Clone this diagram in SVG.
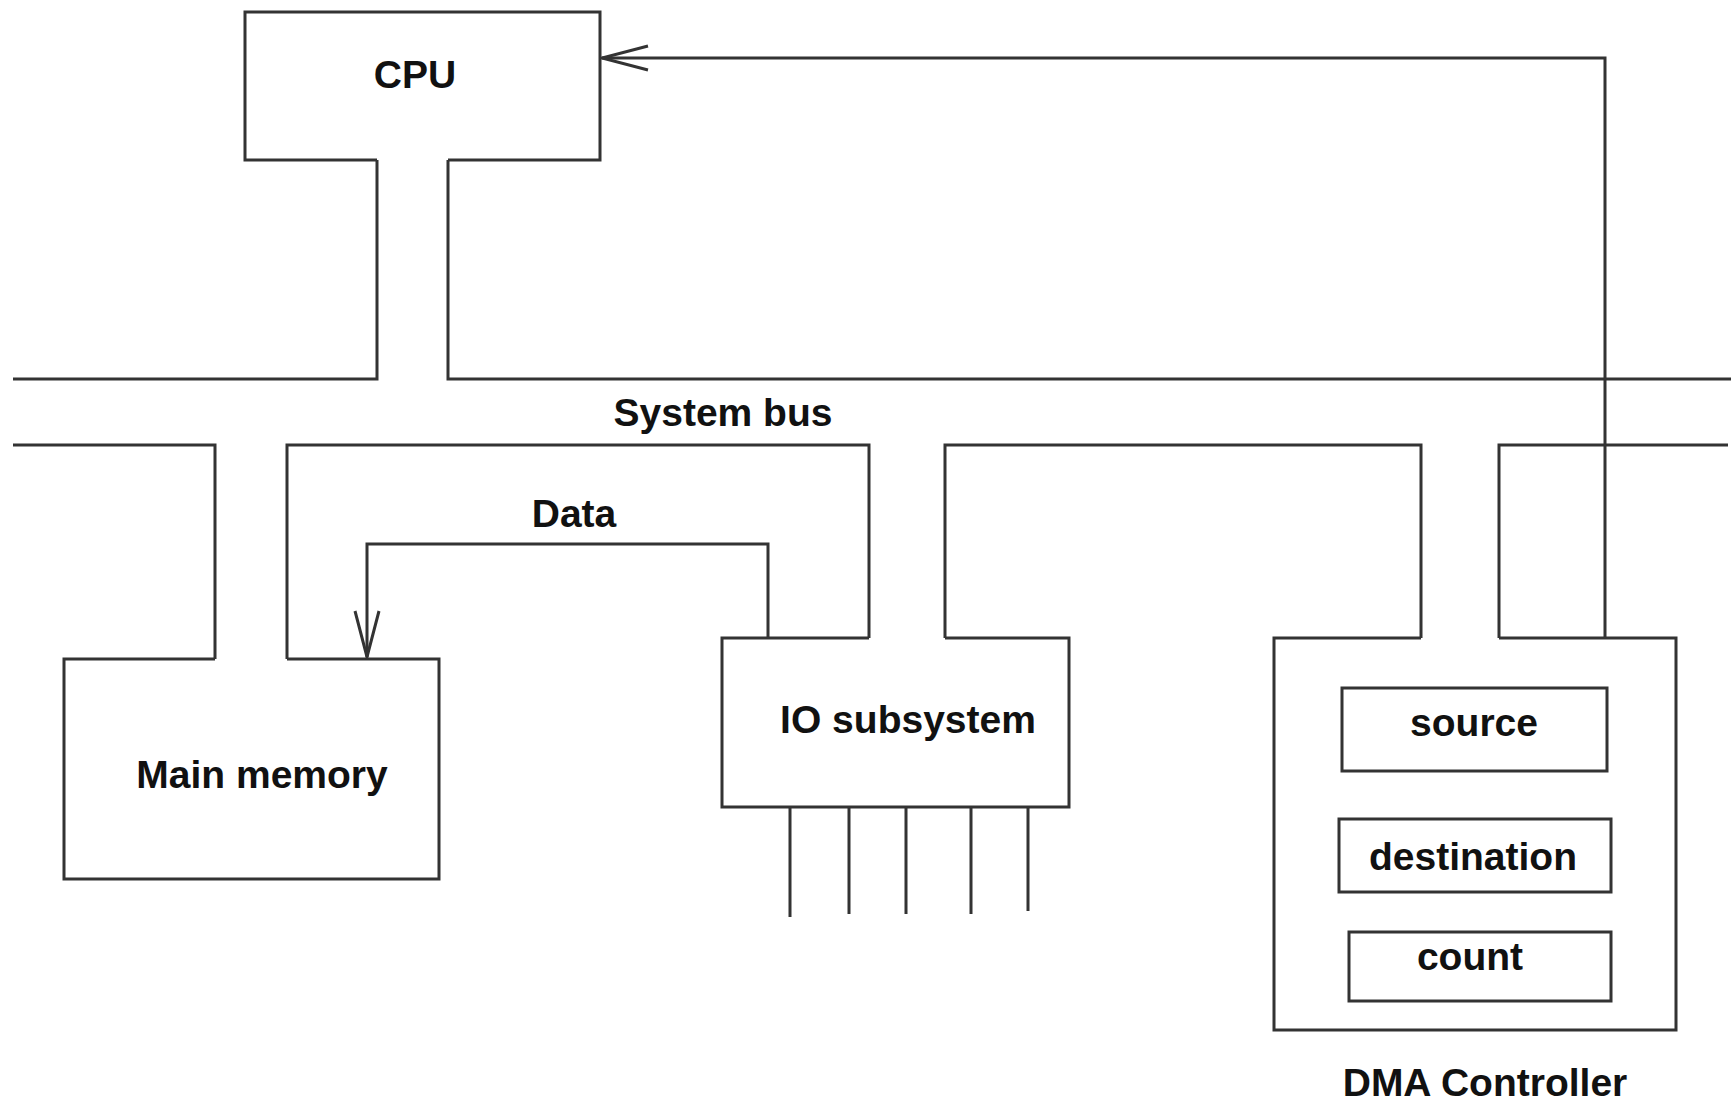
<svg xmlns="http://www.w3.org/2000/svg" width="1731" height="1107" viewBox="0 0 1731 1107">
  <style>
    .ln { fill: none; stroke: #333; stroke-width: 3; stroke-linejoin: miter; }
    .lbl { font-family: "Liberation Sans", Arial, sans-serif; font-weight: bold; font-size: 39px; fill: #111; text-anchor: middle; }
  </style>
  <defs>
    <marker id="open" markerUnits="userSpaceOnUse" viewBox="-50 -14 52 28" refX="0" refY="0" markerWidth="52" markerHeight="28" orient="auto">
      <path d="M-46,-12 L0,0 L-46,12" fill="none" stroke="#333" stroke-width="3"/>
    </marker>
  </defs>
  <rect width="1731" height="1107" fill="#fff"/>

  <!-- system bus: two rails with taps into each unit -->
  <g id="system-bus">
    <path class="ln" d="M13,379 H377 V160"/>
    <path class="ln" d="M448,160 V379 H1731"/>
    <path class="ln" d="M13,445 H215 V659"/>
    <path class="ln" d="M287,659 V445 H869 V638"/>
    <path class="ln" d="M945,638 V445 H1421 V638"/>
    <path class="ln" d="M1499,638 V445 H1728"/>
    <text class="lbl" x="723" y="426">System bus</text>
  </g>

  <g id="cpu">
    <path class="ln" d="M377,160 H245 V12 H600 V160 H448"/>
    <text class="lbl" x="415" y="88">CPU</text>
  </g>

  <g id="main-memory">
    <path class="ln" d="M215,659 H64 V879 H439 V659 H287"/>
    <text class="lbl" x="262" y="788">Main memory</text>
  </g>

  <g id="io-subsystem">
    <path class="ln" d="M869,638 H722 V807 H1069 V638 H945"/>
    <text class="lbl" x="908" y="733">IO subsystem</text>
    <path class="ln" d="M790,807 V917 M849,807 V914 M906,807 V914 M971,807 V914 M1028,807 V911"/>
  </g>

  <g id="dma-controller">
    <path class="ln" d="M1421,638 H1274 V1030 H1676 V638 H1499"/>
    <g id="reg-source">
      <rect class="ln" x="1342" y="688" width="265" height="83"/>
      <text class="lbl" x="1474" y="736">source</text>
    </g>
    <g id="reg-destination">
      <rect class="ln" x="1339" y="819" width="272" height="73"/>
      <text class="lbl" x="1473" y="870">destination</text>
    </g>
    <g id="reg-count">
      <rect class="ln" x="1349" y="932" width="262" height="69"/>
      <text class="lbl" x="1470" y="970">count</text>
    </g>
    <text class="lbl" x="1485" y="1096">DMA Controller</text>
  </g>

  <g id="connectors">
    <!-- data transfer from IO subsystem into main memory -->
    <path class="ln" d="M768,638 V544 H367 V657" marker-end="url(#open)"/>
    <text class="lbl" x="574" y="527">Data</text>
    <!-- DMA controller signals the CPU -->
    <path class="ln" d="M1605,638 V58 H602" marker-end="url(#open)"/>
  </g>
</svg>
